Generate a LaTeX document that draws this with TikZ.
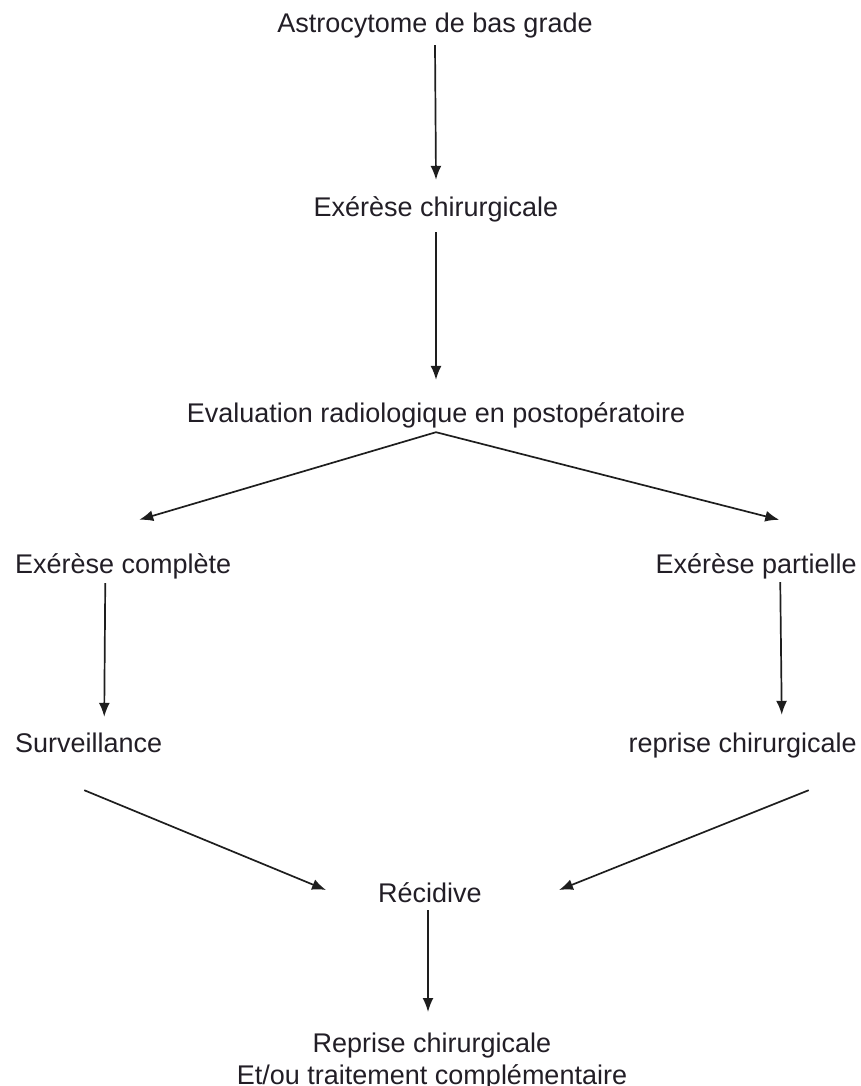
\documentclass[tikz,border=0pt]{standalone}
\usepackage{fontspec}
\setmainfont{Liberation Sans}
\usetikzlibrary{arrows.meta}
\definecolor{txtgray}{RGB}{34,30,38}
\definecolor{linegray}{RGB}{30,30,30}
\begin{document}
\begin{tikzpicture}[x=1pt,y=-1pt]
        \useasboundingbox (0,0) rectangle (861,1086);
        \begin{scope}[every node/.style={inner sep=0,text height=19pt,text depth=6pt,text=txtgray,font=\fontsize{27}{32}\selectfont}]
                \node[anchor=base] (astro) at (435,33) {Astrocytome de bas grade};
                \node[anchor=base] (exch) at (436,216) {Exérèse chirurgicale};
                \node[anchor=base] (eval) at (436,422) {Evaluation radiologique en postopératoire};
                \node[anchor=base west] (comp) at (15,573) {Exérèse complète};
                \node[anchor=base east] (part) at (857,573) {Exérèse partielle};
                \node[anchor=base west] (surv) at (15,752) {Surveillance};
                \node[anchor=base east] (repch) at (857,752) {reprise chirurgicale};
                \node[anchor=base] (recid) at (430,902) {Récidive};
                \node[anchor=north,align=center,text height=,text depth=] (final) at (432,1033) {Reprise chirurgicale\\Et/ou traitement complémentaire};
        \end{scope}
        \begin{scope}[every path/.style={line width=1.7pt, ->, >={Latex[length=14pt,width=11pt]}, linegray}]
                \path ([yshift=-6]astro.south) edge ([yshift=17]exch.north);
                \path ([yshift=-10]exch.south) edge ([yshift=23]eval.north);
                \path ([yshift=-4]eval.south) edge ([xshift=16,yshift=34]comp.north);
                \path ([yshift=-4]eval.south) edge ([xshift=23,yshift=34]part.north);
                \path ([xshift=-18,yshift=-4]comp.south) edge ([xshift=15.5,yshift=16]surv.north);
                \path ([xshift=24,yshift=-3]part.south) edge ([xshift=39,yshift=18]repch.north);
                \path ([xshift=-4.5,yshift=-32]surv.south) edge ([xshift=-52,yshift=5.5]recid.west);
                \path ([xshift=66,yshift=-32]repch.south) edge ([xshift=77,yshift=5.5]recid.east);
                \path ([xshift=-2,yshift=-2]recid.south) edge ([xshift=-4,yshift=21]final.north);
        \end{scope}
\end{tikzpicture}
\end{document}
